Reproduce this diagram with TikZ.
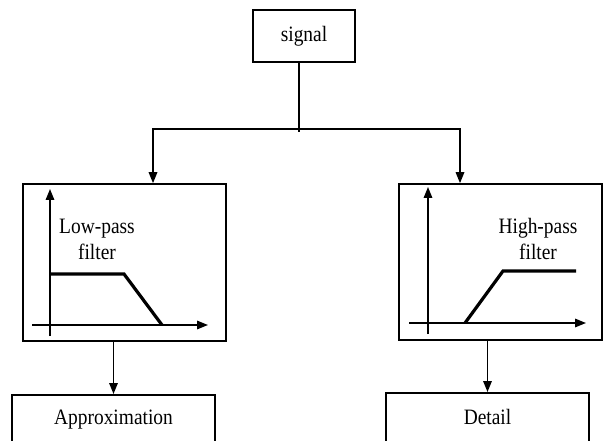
\documentclass[tikz,border=0pt]{standalone}
\usepackage{fontspec}
\setmainfont{Liberation Serif}
\usetikzlibrary{arrows.meta,positioning}
\newcommand{\tallt}[1]{\scalebox{1}[1.13]{#1}}
\begin{document}
\begin{tikzpicture}
[x=1bp,y=-1bp,line width=1.6bp,%
  box/.style={draw,rectangle,inner sep=0pt,line width=1.6bp,minimum width=203bp},%
  arr/.style={-{Triangle[length=11bp,width=8.5bp]}},%
  resp/.style={line width=3.2bp}]
\fontsize{19.5}{26}\selectfont
\useasboundingbox (0,0) rectangle (605,441);
\clip (0,0) rectangle (605,441);
% input
\node[box,minimum width=102bp,minimum height=52bp] (signal) at (304,36) {\tallt{signal}};
\coordinate (fork) at (299,129);
% filters
\node[box,minimum height=157bp] (lowbox) at (124.5,262.5) {};
\node[box,minimum height=156bp] (highbox) at (500.5,262) {};
\node[align=center] (lowlabel) at (97,239) {\tallt{Low-pass}\\\tallt{filter}};
\node[align=center] (highlabel) at (538,239) {\tallt{High-pass}\\\tallt{filter}};
% outputs
\node[box,anchor=north,text height=30bp,text depth=40bp] (approx) at (113.5,394) {\tallt{Approximation}};
\node[box,anchor=north,text height=32bp,text depth=40bp] (detail) at (487.5,392) {\tallt{Detail}};
% connectors
\draw (signal.south -| fork) -- ([yshift=-3bp]fork);
\draw[arr] (fork) -| ([xshift=28.5bp]lowbox.north);
\draw[arr] (fork) -| ([xshift=-40.5bp]highbox.north);
\draw[arr] (lowbox.south -| approx.north) -- (approx.north);
\draw[arr] (highbox.south -| detail.north) -- (detail.north);
% low-pass response
\draw[arr] (50,336) -- (50,189);
\draw[arr] (32,325) -- (208,325);
\draw[resp] (50,274) -- (124,274) -- (162,325);
% high-pass response
\draw[arr] (428,334) -- (428,187);
\draw[arr] (409,323) -- (586,323);
\draw[resp] (465,323) -- (503,271) -- (576,271);
\end{tikzpicture}
\end{document}
